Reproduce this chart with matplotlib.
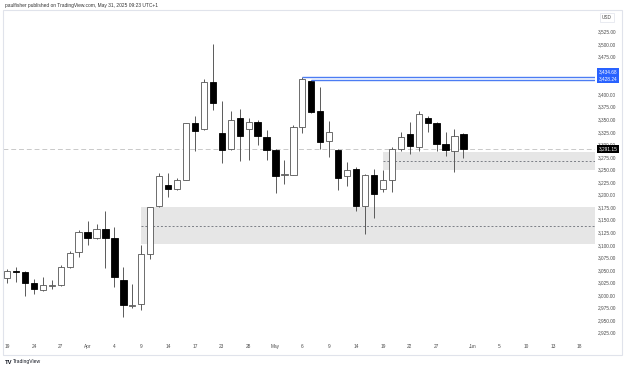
import matplotlib
matplotlib.use("Agg")
import matplotlib.pyplot as plt
from matplotlib.patches import Rectangle

plt.rcParams["font.family"] = ["Liberation Sans", "DejaVu Sans"]

# daily candles, Mar 19 - May 30 2025
opens = [3033, 3048, 3045, 3023, 3010, 3018, 3019, 3056, 3086, 3125,
         3114, 3131, 3114, 3030, 2979, 2983, 3081, 3177, 3219, 3211,
         3230, 3343, 3331, 3424, 3322, 3291, 3353, 3330, 3345, 3315,
         3288, 3240, 3240, 3335, 3426, 3366, 3307, 3288, 3238, 3251,
         3177, 3239, 3212, 3229, 3290, 3320, 3294, 3352, 3343, 3301,
         3287, 3320]
highs = [3052, 3056, 3048, 3032, 3035, 3030, 3059, 3088, 3130, 3148,
         3141, 3167, 3135, 3056, 3022, 3100, 3176, 3244, 3244, 3233,
         3343, 3357, 3430, 3500, 3386, 3367, 3370, 3352, 3349, 3329,
         3290, 3269, 3339, 3434.68, 3428.24, 3415, 3347, 3290, 3264, 3254,
         3241, 3251, 3249, 3295, 3324, 3345, 3366, 3357, 3345, 3324,
         3330, 3323]
lows = [3023, 3026, 2999, 3003, 3008, 3011, 3017, 3054, 3076, 3100,
        3112, 3053, 3015, 2957, 2974, 2971, 3071, 3175, 3196, 3209,
        3229, 3286, 3329, 3368, 3262, 3289, 3267, 3269, 3299, 3268,
        3203, 3222, 3239, 3323, 3363, 3290, 3275, 3209, 3217, 3168,
        3121, 3154, 3206, 3206, 3286, 3280, 3287, 3324, 3286, 3277,
        3246, 3272]
closes = [3048, 3045, 3023, 3011, 3019, 3019, 3056, 3084, 3125, 3114,
          3131, 3113, 3035, 2980, 2981, 3082, 3175, 3237, 3211, 3230,
          3342, 3327, 3425, 3382, 3288, 3349, 3317, 3344, 3317, 3289,
          3237, 3241, 3334, 3431, 3364, 3305, 3324, 3234, 3250, 3177,
          3240, 3201, 3230, 3290, 3314, 3296, 3360, 3342, 3301, 3288,
          3317, 3291.15]

# x axis labels (bar index -> label)
tick_pos = [0, 3, 6, 9, 12, 15, 18, 21, 24, 27, 30, 33, 36, 39, 42, 45, 48,
            52, 55, 58, 61, 64]
tick_labels = ["19", "24", "27", "Apr", "4", "9", "14", "17", "23", "28",
               "May", "6", "9", "14", "19", "22", "27", "Jun", "5", "10",
               "13", "18"]
price_ticks = [2925, 2950, 2975, 3000, 3025, 3050, 3075, 3100, 3125, 3150,
               3175, 3200, 3225, 3250, 3275, 3300, 3325, 3350, 3375, 3400,
               3450, 3475, 3500, 3525]

# demand zones: start bar, low, high
zone_start = [15, 42]
zone_low = [3101, 3250]
zone_high = [3175, 3285.5]

last_price = 3291.15
high_levels = [3434.68, 3428.24]
high_level_start = [33, 34]

fig = plt.figure(figsize=(6.25, 3.69), dpi=100)
ax = fig.add_axes([3 / 625, 29 / 369, 592 / 625, 330 / 369])
ax.set_xlim(-0.45, 65.7)
ax.set_ylim(2910.4, 3567.7)

xs = list(range(len(opens)))

for s, lo, hi in zip(zone_start, zone_low, zone_high):
    ax.add_patch(Rectangle((s, lo), 100, hi - lo, facecolor="#e6e6e6",
                           edgecolor="none", zorder=0))
    ax.hlines((lo + hi) / 2, s, 100, colors="#7b7e85", linestyles=(0, (2, 2)),
              linewidth=0.7, zorder=1)

ax.axhline(last_price, color="#c9c9c9", linestyle=(0, (5, 3)), linewidth=0.7,
           zorder=1)

for s, lvl in zip(high_level_start, high_levels):
    ax.hlines(lvl, s, 100, colors="#4c7cf3", linewidth=1.0, zorder=4)

ax.vlines(xs, lows, highs, color="#5a5a5a", linewidth=0.7, zorder=2)
bottoms = [min(o, c) for o, c in zip(opens, closes)]
heights = [max(abs(c - o), 0.8) for o, c in zip(opens, closes)]
fills = ["white" if c >= o else "black" for o, c in zip(opens, closes)]
edges = ["#555555" if c >= o else "black" for o, c in zip(opens, closes)]
ax.bar(xs, heights, bottom=bottoms, width=0.7, color=fills, edgecolor=edges,
       linewidth=0.6, zorder=3)

for sp in ax.spines.values():
    sp.set_visible(False)
ax.yaxis.tick_right()
ax.set_yticks(price_ticks)
ax.set_yticklabels([f"{p:,.2f}" for p in price_ticks])
ax.set_xticks(tick_pos)
ax.set_xticklabels(tick_labels)
ax.tick_params(axis="y", length=0, pad=2.3, labelsize=3.4, labelcolor="#4a4a4a")
ax.tick_params(axis="x", length=0, pad=3.2, labelsize=3.4, labelcolor="#4a4a4a")

# price labels on the axis
label_shift = [3.3, 0.9]
for lvl, sh in zip(high_levels, label_shift):
    ax.annotate(f"{lvl:,.2f}", xy=(1.0, lvl), xycoords=ax.get_yaxis_transform(),
                xytext=(2.6, sh), textcoords="offset points", ha="left",
                va="center", fontsize=3.4, color="white", annotation_clip=False,
                bbox=dict(boxstyle="square,pad=0.35", fc="#2962ff", ec="none"))
ax.annotate(f"{last_price:,.2f}", xy=(1.0, last_price),
            xycoords=ax.get_yaxis_transform(), xytext=(2.6, 0),
            textcoords="offset points", ha="left", va="center", fontsize=3.4,
            color="white", annotation_clip=False,
            bbox=dict(boxstyle="square,pad=0.35", fc="black", ec="none"))

fig.text(607 / 625, 1 - 17.5 / 369, "USD", ha="center", va="center",
         fontsize=3.4, color="#4a4a4a",
         bbox=dict(boxstyle="square,pad=0.5", fc="white", ec="#e0e3eb", lw=0.5))

fig.add_artist(Rectangle((3 / 625, 14 / 369), 619 / 625, 345 / 369,
                         transform=fig.transFigure, fill=False,
                         edgecolor="#e0e3eb", linewidth=0.8))

fig.text(5 / 625, 1 - 5 / 369,
         "paulfisher published on TradingView.com, May 31, 2025 09:23 UTC+1",
         ha="left", va="center", fontsize=3.5, color="#333333")
fig.text(5 / 625, 1 - 362 / 369, "TV", ha="left", va="center", fontsize=4.2,
         fontweight="bold", color="#131722")
fig.text(13 / 625, 1 - 362 / 369, "TradingView", ha="left", va="center",
         fontsize=3.6, color="#131722")

fig.savefig("out.png", dpi=100)
